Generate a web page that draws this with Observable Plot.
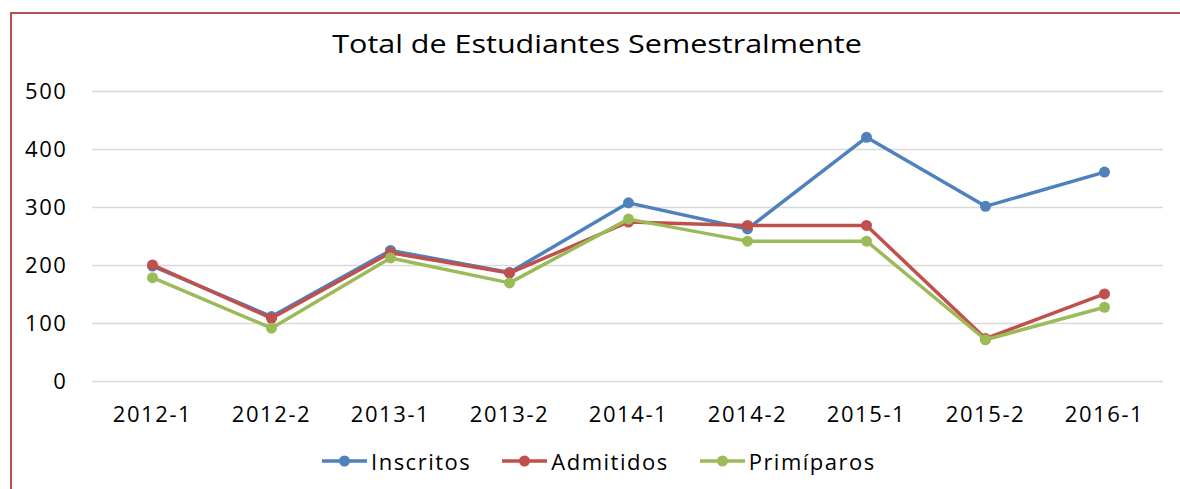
<!DOCTYPE html>
<html><head><meta charset="utf-8">
<script src="https://cdn.jsdelivr.net/npm/d3@7"></script>
<script src="https://cdn.jsdelivr.net/npm/@observablehq/plot@0.6"></script>
<style>
html,body{margin:0;padding:0;background:#fff;}
#wrap{position:relative;width:1180px;height:489px;overflow:hidden;font-family:"Open Sans",sans-serif;color:#000;}
#frame{position:absolute;left:10px;top:12px;width:1200px;height:600px;border:2px solid #b7514e;box-sizing:border-box;}
#title{position:absolute;left:0;width:1195px;top:27px;line-height:32px;text-align:center;font-size:25px;}
#title span{display:inline-block;transform:scaleX(1.22);transform-origin:center;}
#chart{position:absolute;left:0;top:0;}
#chart svg text{letter-spacing:1.6px;}
#legend{position:absolute;left:322px;top:449px;display:flex;gap:31px;font-size:22px;line-height:24px;letter-spacing:1.5px;}
.item{display:flex;align-items:center;gap:4px;}
.item svg{display:block;}
</style>
</head><body>
<div id="wrap">
  <div id="frame"></div>
  <div id="chart"></div>
  <div id="title"><span>Total de Estudiantes Semestralmente</span></div>
  <div id="legend"></div>
</div>
<script>
const periods = ["2012-1","2012-2","2013-1","2013-2","2014-1","2014-2","2015-1","2015-2","2016-1"];
const inscritos  = [199, 112, 226, 188, 308, 263, 421, 302, 361];
const admitidos  = [201, 109, 222, 187, 275, 269, 269, 74, 151];
const primiparos = [179, 92, 213, 170, 280, 242, 242, 72, 128];
const seriesNames = ["Inscritos","Admitidos","Primíparos"];
const seriesColors = ["#4f81bd","#c0504d","#9bbb59"];
const yTicks = [0, 100, 200, 300, 400, 500];
const title = "Total de Estudiantes Semestralmente";

const seriesValues = [inscritos, admitidos, primiparos];
const rows = seriesNames.flatMap((name, s) =>
  periods.map((p, i) => ({period: p, value: seriesValues[s][i], serie: name})));

const chart = Plot.plot({
  width: 1180,
  height: 489,
  marginLeft: 92,
  marginRight: 17,
  marginTop: 91,
  marginBottom: 108,
  style: {fontFamily: "Open Sans", fontSize: "22px", color: "#000", background: "transparent"},
  x: {type: "point", domain: periods, padding: 0.5, label: null},
  y: {domain: [0, 500], label: null},
  color: {domain: seriesNames, range: seriesColors},
  marks: [
    Plot.gridY(yTicks, {stroke: "#d9d9d9", strokeOpacity: 1, strokeWidth: 1.5}),
    Plot.axisY(yTicks, {tickSize: 0, tickPadding: 25, fontSize: 22, label: null}),
    Plot.axisX({tickSize: 0, tickPadding: 25, fontSize: 22, label: null}),
    ...seriesNames.flatMap(name => {
      const d = rows.filter(r => r.serie === name);
      return [
        Plot.line(d, {x: "period", y: "value", stroke: "serie", strokeWidth: 3.5}),
        Plot.dot(d, {x: "period", y: "value", fill: "serie", r: 5.5})
      ];
    })
  ]
});
document.getElementById("chart").appendChild(chart);

const legend = document.getElementById("legend");
seriesNames.forEach((name, i) => {
  const item = document.createElement("div");
  item.className = "item";
  const c = seriesColors[i];
  item.innerHTML = `<svg width="45" height="14"><line x1="0" y1="7" x2="45" y2="7" stroke="${c}" stroke-width="3.5"/><circle cx="22.5" cy="7" r="5.5" fill="${c}"/></svg><span>${name}</span>`;
  legend.appendChild(item);
});
</script>
</body></html>
